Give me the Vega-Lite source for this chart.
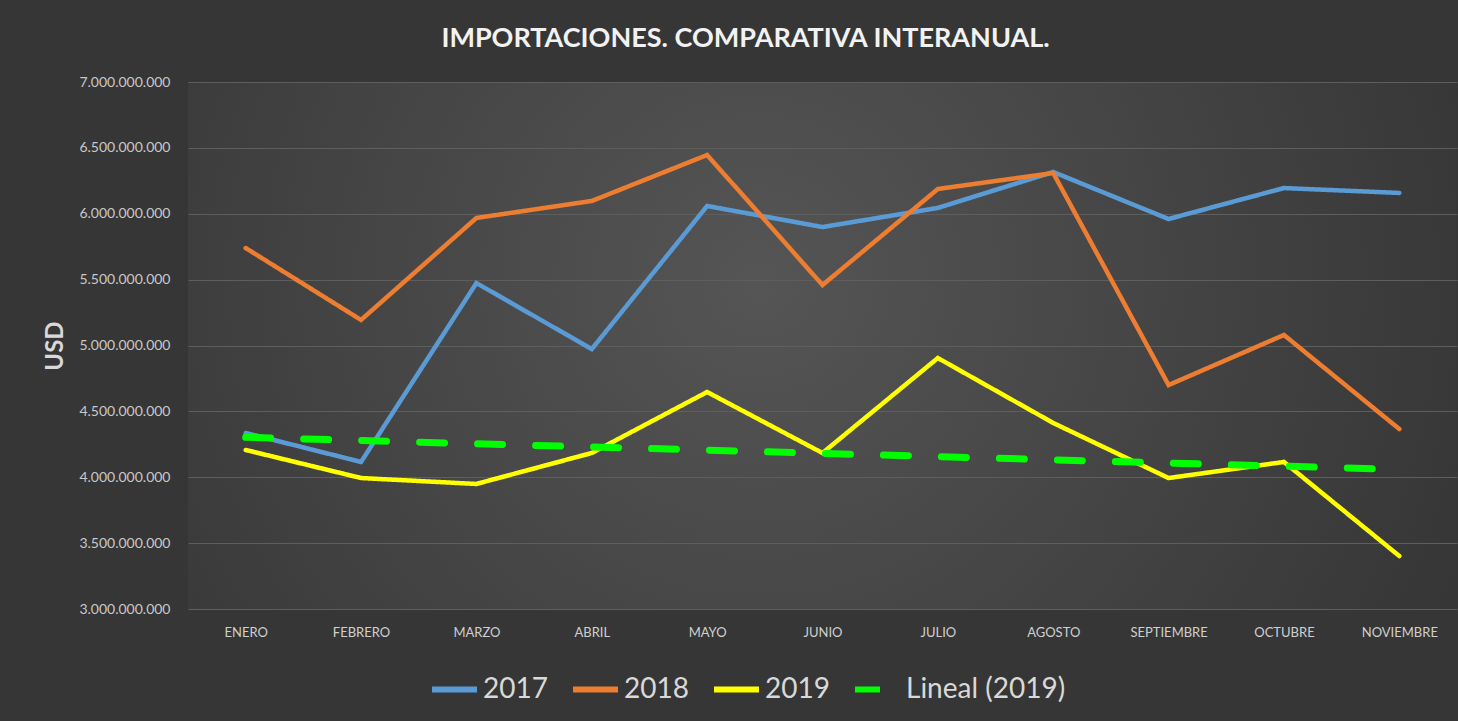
{
  "$schema": "https://vega.github.io/schema/vega-lite/v6.json",
  "width": 1269,
  "height": 527,
  "autosize": {"type": "none"},
  "padding": {"left": 188, "top": 82, "right": 1, "bottom": 112},
  "background": "#363636",
  "title": {
    "text": "IMPORTACIONES. COMPARATIVA INTERANUAL.",
    "font": "Lato",
    "fontSize": 27,
    "fontWeight": "bold",
    "color": "#f2f2f2",
    "anchor": "middle",
    "dx": -77,
    "offset": 22
  },
  "datasets": {
    "importaciones": [
      {"mes": "ENERO", "serie": "2017", "valor": 4336000000},
      {"mes": "FEBRERO", "serie": "2017", "valor": 4116000000},
      {"mes": "MARZO", "serie": "2017", "valor": 5474000000},
      {"mes": "ABRIL", "serie": "2017", "valor": 4973000000},
      {"mes": "MAYO", "serie": "2017", "valor": 6059000000},
      {"mes": "JUNIO", "serie": "2017", "valor": 5899000000},
      {"mes": "JULIO", "serie": "2017", "valor": 6044000000},
      {"mes": "AGOSTO", "serie": "2017", "valor": 6317000000},
      {"mes": "SEPTIEMBRE", "serie": "2017", "valor": 5960000000},
      {"mes": "OCTUBRE", "serie": "2017", "valor": 6195000000},
      {"mes": "NOVIEMBRE", "serie": "2017", "valor": 6158000000},
      {"mes": "ENERO", "serie": "2018", "valor": 5740000000},
      {"mes": "FEBRERO", "serie": "2018", "valor": 5194000000},
      {"mes": "MARZO", "serie": "2018", "valor": 5968000000},
      {"mes": "ABRIL", "serie": "2018", "valor": 6097000000},
      {"mes": "MAYO", "serie": "2018", "valor": 6446000000},
      {"mes": "JUNIO", "serie": "2018", "valor": 5459000000},
      {"mes": "JULIO", "serie": "2018", "valor": 6188000000},
      {"mes": "AGOSTO", "serie": "2018", "valor": 6309000000},
      {"mes": "SEPTIEMBRE", "serie": "2018", "valor": 4700000000},
      {"mes": "OCTUBRE", "serie": "2018", "valor": 5080000000},
      {"mes": "NOVIEMBRE", "serie": "2018", "valor": 4366000000},
      {"mes": "ENERO", "serie": "2019", "valor": 4207000000},
      {"mes": "FEBRERO", "serie": "2019", "valor": 3994000000},
      {"mes": "MARZO", "serie": "2019", "valor": 3949000000},
      {"mes": "ABRIL", "serie": "2019", "valor": 4184000000},
      {"mes": "MAYO", "serie": "2019", "valor": 4647000000},
      {"mes": "JUNIO", "serie": "2019", "valor": 4184000000},
      {"mes": "JULIO", "serie": "2019", "valor": 4905000000},
      {"mes": "AGOSTO", "serie": "2019", "valor": 4412000000},
      {"mes": "SEPTIEMBRE", "serie": "2019", "valor": 3994000000},
      {"mes": "OCTUBRE", "serie": "2019", "valor": 4116000000},
      {"mes": "NOVIEMBRE", "serie": "2019", "valor": 3402000000}
    ],
    "tendencia": [
      {"mes": "ENERO", "serie": "Lineal (2019)", "valor": 4303000000},
      {"mes": "FEBRERO", "serie": "Lineal (2019)", "valor": 4279000000},
      {"mes": "MARZO", "serie": "Lineal (2019)", "valor": 4254000000},
      {"mes": "ABRIL", "serie": "Lineal (2019)", "valor": 4230000000},
      {"mes": "MAYO", "serie": "Lineal (2019)", "valor": 4206000000},
      {"mes": "JUNIO", "serie": "Lineal (2019)", "valor": 4181000000},
      {"mes": "JULIO", "serie": "Lineal (2019)", "valor": 4157000000},
      {"mes": "AGOSTO", "serie": "Lineal (2019)", "valor": 4132000000},
      {"mes": "SEPTIEMBRE", "serie": "Lineal (2019)", "valor": 4108000000},
      {"mes": "OCTUBRE", "serie": "Lineal (2019)", "valor": 4084000000},
      {"mes": "NOVIEMBRE", "serie": "Lineal (2019)", "valor": 4059000000}
    ]
  },
  "encoding": {
    "x": {
      "field": "mes",
      "type": "nominal",
      "sort": ["ENERO", "FEBRERO", "MARZO", "ABRIL", "MAYO", "JUNIO", "JULIO", "AGOSTO", "SEPTIEMBRE", "OCTUBRE", "NOVIEMBRE"],
      "scale": {"type": "point", "padding": 0.5},
      "axis": {
        "title": null,
        "labelAngle": 0,
        "labelFont": "Lato",
        "labelFontSize": 13,
        "labelColor": "#cfcfcf",
        "labelPadding": 17,
        "domain": false,
        "ticks": false,
        "grid": false
      }
    },
    "y": {
      "field": "valor",
      "type": "quantitative",
      "scale": {"domain": [3000000000, 7000000000], "nice": false, "zero": false},
      "axis": {
        "title": "USD",
        "titleFont": "Lato",
        "titleFontSize": 24,
        "titleFontWeight": "bold",
        "titleColor": "#d9d9d9",
        "titlePadding": 11,
        "values": [3000000000, 3500000000, 4000000000, 4500000000, 5000000000, 5500000000, 6000000000, 6500000000, 7000000000],
        "format": ",.0f",
        "labelFont": "Lato",
        "labelFontSize": 14,
        "labelColor": "#c8c8c8",
        "labelPadding": 18,
        "domain": false,
        "ticks": false,
        "grid": true,
        "gridColor": "#5e5e5e",
        "gridWidth": 1
      }
    },
    "color": {
      "field": "serie",
      "type": "nominal",
      "scale": {
        "domain": ["2017", "2018", "2019", "Lineal (2019)"],
        "range": ["#5b9bd5", "#ed7d31", "#ffff00", "#00ff00"]
      },
      "legend": {
        "title": null,
        "orient": "none",
        "direction": "horizontal",
        "legendX": 241,
        "legendY": 582,
        "padding": 0,
        "gridAlign": "none",
        "symbolType": "stroke",
        "symbolSize": 2025,
        "symbolStrokeWidth": 6,
        "labelFont": "Lato",
        "labelFontSize": 28,
        "labelColor": "#d9d9d9",
        "labelOffset": 3,
        "columnPadding": 13
      }
    },
    "strokeDash": {
      "field": "serie",
      "type": "nominal",
      "scale": {
        "domain": ["2017", "2018", "2019", "Lineal (2019)"],
        "range": [[1, 0], [1, 0], [1, 0], [25, 33]]
      },
      "legend": {
        "title": null,
        "orient": "none",
        "direction": "horizontal",
        "legendX": 241,
        "legendY": 582,
        "padding": 0,
        "gridAlign": "none",
        "symbolType": "stroke",
        "symbolSize": 2025,
        "symbolStrokeWidth": 6,
        "labelFont": "Lato",
        "labelFontSize": 28,
        "labelColor": "#d9d9d9",
        "labelOffset": 3,
        "columnPadding": 13
      }
    }
  },
  "layer": [
    {
      "data": {"name": "importaciones"},
      "mark": {"type": "line", "strokeWidth": 4.5, "strokeCap": "round"}
    },
    {
      "data": {"name": "tendencia"},
      "mark": {"type": "line", "strokeWidth": 7, "strokeCap": "round"}
    }
  ],
  "config": {
    "locale": {
      "number": {"decimal": ",", "thousands": ".", "grouping": [3], "currency": ["", " $"]}
    },
    "view": {
      "stroke": null,
      "fill": {
        "gradient": "radial",
        "x1": 0.45, "y1": 0.45, "r1": 0,
        "x2": 0.45, "y2": 0.45, "r2": 0.75,
        "stops": [
          {"offset": 0, "color": "#555555"},
          {"offset": 1, "color": "#2e2e2e"}
        ]
      }
    }
  }
}
